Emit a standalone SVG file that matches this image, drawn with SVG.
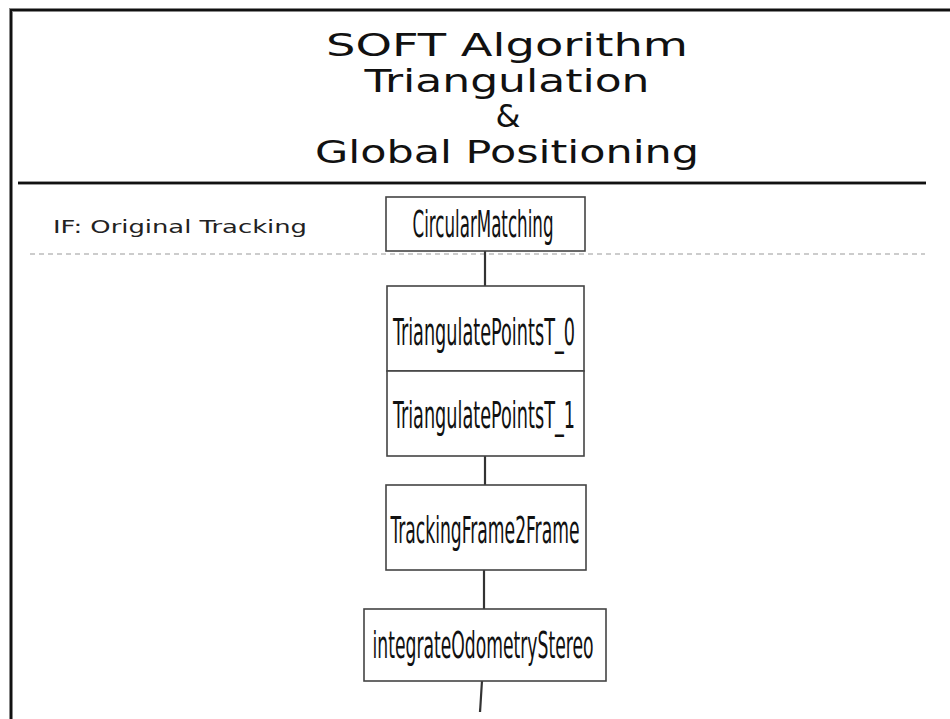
<svg xmlns="http://www.w3.org/2000/svg" width="950" height="719" viewBox="0 0 950 719">
  <style>
    .title { font-family: "DejaVu Sans", Verdana, sans-serif; font-size: 32px; fill: #111; text-anchor: middle; }
    .label { font-family: "DejaVu Sans", Verdana, sans-serif; font-size: 18px; fill: #222; }
    .box { fill: #fff; stroke: #444; stroke-width: 1.6; }
    .name { font-family: "DejaVu Sans Condensed", "DejaVu Sans", sans-serif; font-size: 38px; fill: #111; text-anchor: middle; }
    .link { stroke: #333; stroke-width: 2.2; fill: none; }
  </style>

  <rect width="950" height="719" fill="#fff"/>

  <!-- frame -->
  <path d="M11 719 V10 H950" fill="none" stroke="#888" stroke-width="4"/>
  <path d="M11 719 V10 H950" fill="none" stroke="#111" stroke-width="2"/>

  <!-- heading -->
  <g id="heading">
    <text class="title" x="507" y="56" textLength="362" lengthAdjust="spacingAndGlyphs">SOFT Algorithm</text>
    <text class="title" x="507" y="92" textLength="285" lengthAdjust="spacingAndGlyphs">Triangulation</text>
    <text class="title" x="508" y="127">&amp;</text>
    <text class="title" x="507" y="163" textLength="384" lengthAdjust="spacingAndGlyphs">Global Positioning</text>
  </g>
  <line x1="18" y1="183" x2="926" y2="183" stroke="#999" stroke-width="4"/>
  <line x1="18" y1="183" x2="926" y2="183" stroke="#111" stroke-width="2"/>

  <!-- section label and separator -->
  <g id="section">
    <text class="label" x="53" y="233" textLength="254" lengthAdjust="spacingAndGlyphs">IF: Original Tracking</text>
    <line x1="30" y1="254" x2="925" y2="254" stroke="#ccc" stroke-width="2" stroke-dasharray="5 4"/>
  </g>

  <!-- connectors -->
  <g id="connectors">
    <line class="link" x1="485" y1="251" x2="485" y2="286"/>
    <line class="link" x1="485" y1="456" x2="485" y2="485"/>
    <line class="link" x1="484" y1="570" x2="484" y2="609"/>
    <line class="link" x1="482" y1="681" x2="480" y2="712"/>
  </g>

  <!-- nodes -->
  <g id="circular-matching">
    <rect class="box" x="386" y="197" width="199" height="54"/>
    <text class="name" x="483" y="237" textLength="141" lengthAdjust="spacingAndGlyphs">CircularMatching</text>
  </g>
  <g id="triangulate-0">
    <rect class="box" x="387" y="286" width="197" height="85"/>
    <text class="name" x="484" y="345" textLength="182" lengthAdjust="spacingAndGlyphs">TriangulatePointsT_0</text>
  </g>
  <g id="triangulate-1">
    <rect class="box" x="387" y="371" width="197" height="85"/>
    <text class="name" x="484" y="428" textLength="182" lengthAdjust="spacingAndGlyphs">TriangulatePointsT_1</text>
  </g>
  <g id="tracking-frame">
    <rect class="box" x="386" y="485" width="200" height="85"/>
    <text class="name" x="485" y="543" textLength="189" lengthAdjust="spacingAndGlyphs">TrackingFrame2Frame</text>
  </g>
  <g id="integrate-odometry">
    <rect class="box" x="364" y="609" width="242" height="72"/>
    <text class="name" x="483" y="658" textLength="221" lengthAdjust="spacingAndGlyphs">integrateOdometryStereo</text>
  </g>
</svg>
